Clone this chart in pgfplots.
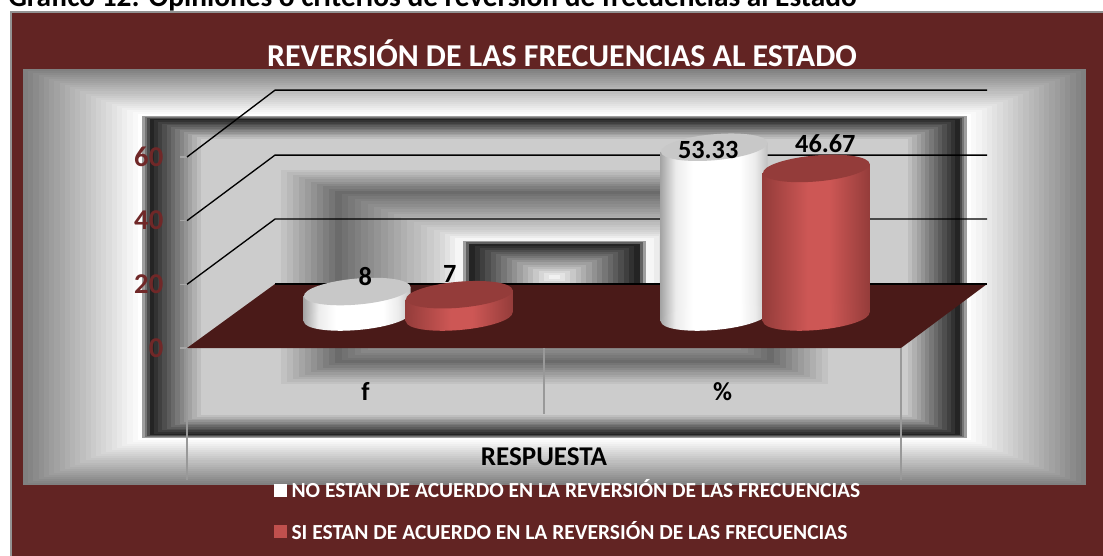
\documentclass[border=0pt]{standalone}
\usepackage{fontspec}
\setmainfont{Carlito}
\newfontfamily\cb{Carlito}[UprightFont=*-Bold,UprightFeatures={FakeBold=0}]
\usepackage{pgfplots}
\usepackage{pgfplotstable}
\pgfplotsset{compat=1.18}
\usetikzlibrary{shapes.geometric}
\definecolor{wine}{HTML}{622423}
\definecolor{winetxt}{HTML}{702828}
\definecolor{floorc}{HTML}{4A1A18}
\definecolor{capw}{HTML}{C8C8C8}
\definecolor{capr}{HTML}{943C3A}
\definecolor{legr}{HTML}{C0504D}
\pgfdeclarehorizontalshading{bodyw}{100bp}{color(0bp)=(gray!70!white);color(25bp)=(gray!70!white);color(32bp)=(gray!15!white);color(40bp)=(white);color(62bp)=(white);color(69bp)=(gray!15!white);color(75bp)=(gray!50!white);color(100bp)=(gray!50!white)}
\definecolor{rd}{HTML}{943C3A}
\definecolor{rl}{HTML}{CD5755}
\pgfdeclarehorizontalshading{bodyr}{100bp}{color(0bp)=(rd);color(25bp)=(rd);color(46bp)=(rl);color(56bp)=(rl);color(75bp)=(rd);color(100bp)=(rd)}
\pgfplotstableread{
dx k t
-0.15 0 -1.45
-0.15 1 -1.45
0.15 1 1.45
0.15 0 1.45
}\corners
% #1 x, #2 value, #3 body shading, #4 cap colour
\newcommand\cyl[4]{%
  \addplot[forget plot,only marks,mark=none,nodes near coords={},
    every node near coord/.style={anchor=center,ellipse,inner sep=0pt,minimum width=80.25pt,minimum height=19.5pt,rotate=5,shade,shading=#3}]
    coordinates {(#1,0)};
  \addplot[forget plot,draw=none,shade,shading=#3] table[x expr=#1+\thisrow{dx},y expr=\thisrow{k}*#2+\thisrow{t}] {\corners};
  \addplot[forget plot,only marks,mark=none,nodes near coords={},
    every node near coord/.style={anchor=center,ellipse,inner sep=0pt,minimum width=80.25pt,minimum height=19.5pt,rotate=5,fill=#4}]
    coordinates {(#1,#2)};
}
\newcommand\lab[3]{%
  \addplot[forget plot,only marks,mark=none,
    nodes near coords={\fontsize{19.7}{20}\cb\selectfont\pgfmathprintnumber[assume math mode=true,fixed,precision=2]{\pgfplotspointmeta}},
    every node near coord/.style={anchor=center,text=black,#3}]
    coordinates {(#1,#2)};
}
\pgfplotsset{cyl axis/.style={at={(172.3pt,-237.75pt)},anchor=south west,
  width=535.5pt,height=143.25pt,scale only axis,clip=false,hide axis,
  xmin=-0.5,xmax=1.5,ymin=0,ymax=60}}
\begin{document}
\begin{tikzpicture}
\path[use as bounding box] (0,0) rectangle (827.25pt,-417pt);
\clip (0,0) rectangle (827.25pt,-417pt);
\begin{scope}[x=.75pt,y=-.75pt]
\fill[gray!85!white] (10,11) rectangle (1110,560);
\fill[wine] (12,13) rectangle (1110,560);
\foreach \ta/\ga/\tb/\gb/\n in {
  1.0/0.50/0.784/1.0/22,
  0.784/1.0/0.776/1.0/1,
  0.776/0.62/0.762/0.14/3,
  0.762/0.14/0.665/0.80/12,
  0.665/0.80/0.525/0.80/1,
  0.525/0.80/0.413/0.42/10,
  0.413/0.42/0.215/0.85/16,
  0.215/0.85/0.178/1.0/4,
  0.172/0.62/0.160/0.14/2,
  0.160/0.14/0.0/1.0/16}{
  \foreach \i in {1,...,\n}{
    \pgfmathsetmacro\tt{\ta+(\tb-\ta)*(\i-1)/\n}
    \pgfmathsetmacro\gg{\ga+(\gb-\ga)*(\i-1)/\n}
    \pgfmathsetmacro\xa{554.5-531.5*\tt}
    \pgfmathsetmacro\xb{554.5+531.5*\tt}
    \pgfmathsetmacro\ya{277-208*\tt}
    \pgfmathsetmacro\yb{277+208*\tt}
    \definecolor{bgc}{gray}{\gg}
    \fill[bgc] (\xa,\ya) rectangle (\xb,\yb);
  }
}
\node[anchor=base west,inner sep=0pt,font=\fontsize{22}{22}\selectfont\bfseries] at (8,6.5) {Gráfico 12: Opiniones o criterios de reversión de frecuencias al Estado};
\node[font=\fontsize{23.9}{24}\selectfont\bfseries,text=white,inner sep=0pt] at (562,53.5) {REVERSIÓN DE LAS FRECUENCIAS AL ESTADO};
\end{scope}
% walls, floor, ticks and legend
\begin{axis}[name=walls,at={(140.25pt,-261pt)},anchor=south west,
  width=535.5pt,height=143.25pt,scale only axis,clip=false,
  xmin=-0.5,xmax=1.5,ymin=0,ymax=60,
  xtick={0,1},xticklabels={{\cb f},{\cb\%}},
  ytick={0,20,40,60},
  axis line style={draw=none},
  xtick pos=bottom,ytick pos=left,
  tick align=outside,
  major tick length=5.25pt,
  x tick style={draw=none},
  y tick style={draw=gray!70!white,line width=.8pt},
  yticklabel={\fontsize{21.5}{22}\cb\selectfont\pgfmathprintnumber[assume math mode=true]{\tick}},
  yticklabel style={text=winetxt,xshift=-9pt},
  xticklabel style={font=\fontsize{19.5}{20}\selectfont,text=black,yshift=-17.25pt},
  xlabel={RESPUESTA},
  xlabel style={at={(axis description cs:0.5,-0.571)},anchor=center,font=\fontsize{20.3}{20}\selectfont\bfseries,text=black,inner sep=0pt},
  legend style={at={(axis description cs:0.122,-0.675)},anchor=north west,draw=none,fill=none,
    font=\fontsize{16.1}{16.1}\selectfont\bfseries,text=white,inner sep=0pt,row sep=12pt,
    cells={anchor=west}},
  legend image code/.code={\fill[#1] (0.5pt,-4.5pt) rectangle (9.5pt,4.5pt);},
  legend cell align=left,
]
\addlegendimage{white}
\addlegendentry{\hspace{1.5pt}NO ESTAN DE ACUERDO EN LA REVERSIÓN DE LAS FRECUENCIAS}
\addlegendimage{legr}
\addlegendentry{\hspace{1.5pt}SI ESTAN DE ACUERDO EN LA REVERSIÓN DE LAS FRECUENCIAS}
\addplot[forget plot,fill=floorc,draw=none] coordinates {(-0.5,0)(-0.2535,20.1)(1.741,20.1)(1.5,0)};
\addplot[forget plot,black,line width=1pt] coordinates {(-0.2535,20.1)(1.741,20.1)};
\addplot[forget plot,black,line width=1pt] coordinates {(-0.5,20)(-0.2535,40.5)(1.741,40.5)};
\addplot[forget plot,black,line width=1pt] coordinates {(-0.5,40)(-0.2535,60.6)(1.741,60.6)};
\addplot[forget plot,black,line width=1pt] coordinates {(-0.5,60)(-0.2535,81)(1.741,81)};
\addplot[forget plot,gray!80!white,line width=1pt] coordinates {(-0.5,0)(-0.5,-41.5)};
\addplot[forget plot,gray!80!white,line width=1pt] coordinates {(0.5,0)(0.5,-20.7)};
\addplot[forget plot,gray!80!white,line width=1pt] coordinates {(1.5,0)(1.5,-41.5)};
\end{axis}
% cylinders: first series
\begin{axis}[cyl axis]
\cyl{-0.143}{8}{bodyw}{capw}
\cyl{0.857}{53.33}{bodyw}{capw}
\end{axis}
% cylinders: second series
\begin{axis}[cyl axis]
\cyl{0.143}{7}{bodyr}{capr}
\cyl{1.143}{46.67}{bodyr}{capr}
\end{axis}
% value labels
\begin{axis}[cyl axis]
\lab{-0.143}{8}{xshift=6pt,yshift=10.9pt}
\lab{0.143}{7}{xshift=-7.1pt,yshift=15.7pt}
\lab{0.857}{53.33}{xshift=-4.5pt,yshift=-1.9pt}
\lab{1.143}{46.67}{xshift=6.8pt,yshift=18.7pt}
\end{axis}
\end{tikzpicture}
\end{document}
